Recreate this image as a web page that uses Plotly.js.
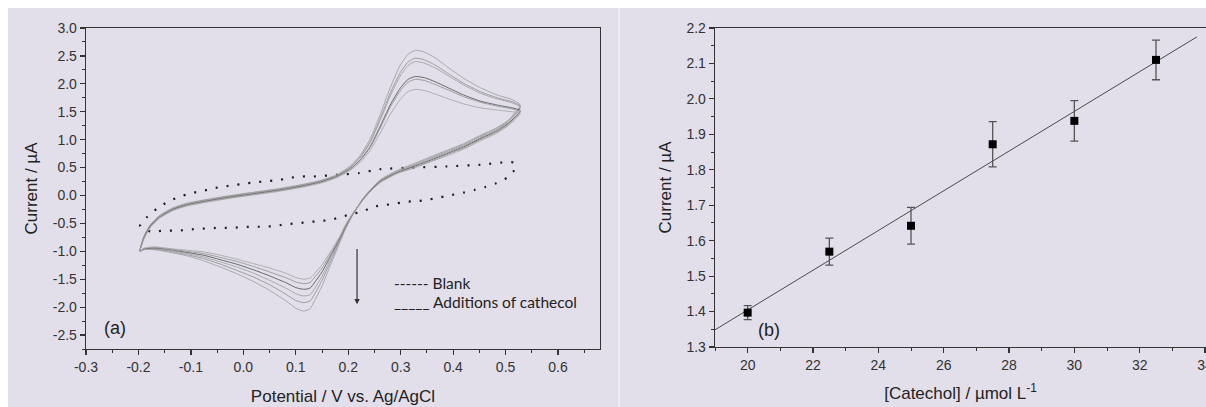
<!DOCTYPE html>
<html>
<head>
<meta charset="utf-8">
<script src="https://cdn.plot.ly/plotly-3.0.1.min.js"></script>
<style>html,body{margin:0;padding:0;background:#fff;overflow:hidden}#chart{width:1206px;height:407px}</style>
</head>
<body>
<div id="chart"></div>
<script>
// ---------- Panel (a): cyclic voltammograms ----------
// Forward (anodic) scan potentials, V vs Ag/AgCl
const fwdPotential = [-0.197,-0.19,-0.178,-0.16,-0.134,-0.108,-0.07,-0.025,0.02,0.065,0.108,0.147,0.178,0.204,0.223,0.242,0.261,0.28,0.299,0.314,0.328,0.345,0.365,0.388,0.42,0.452,0.484,0.512,0.528];
// Reverse (cathodic) scan potentials
const revPotential = [0.505,0.484,0.45,0.42,0.388,0.356,0.325,0.293,0.261,0.242,0.229,0.21,0.195,0.185,0.166,0.15,0.135,0.127,0.115,0.1,0.083,0.05,0.019,-0.013,-0.044,-0.076,-0.108,-0.14,-0.171,-0.19,-0.197];

// Currents (µA) for each catechol addition
const add1Fwd = [-1.0,-0.74,-0.53,-0.36,-0.22,-0.14,-0.07,0.0,0.06,0.12,0.19,0.27,0.37,0.53,0.72,1.02,1.45,1.93,2.33,2.53,2.60,2.57,2.47,2.31,2.10,1.93,1.80,1.72,1.62];
const add1Rev = [1.35,1.22,1.07,0.93,0.81,0.69,0.57,0.45,0.28,0.10,-0.04,-0.32,-0.60,-0.82,-1.25,-1.62,-1.90,-2.03,-2.07,-2.02,-1.90,-1.70,-1.54,-1.40,-1.28,-1.17,-1.08,-1.02,-0.97,-0.97,-1.0];
const add2Fwd = [-1.0,-0.75,-0.54,-0.37,-0.23,-0.15,-0.08,-0.01,0.05,0.11,0.18,0.26,0.36,0.51,0.69,0.97,1.38,1.83,2.20,2.39,2.46,2.43,2.34,2.20,2.01,1.86,1.75,1.68,1.60];
const add2Rev = [1.33,1.20,1.05,0.91,0.79,0.67,0.55,0.43,0.27,0.09,-0.05,-0.32,-0.58,-0.79,-1.19,-1.52,-1.78,-1.89,-1.92,-1.88,-1.78,-1.60,-1.46,-1.34,-1.23,-1.13,-1.06,-1.00,-0.96,-0.96,-1.0];
const add3Fwd = [-1.0,-0.76,-0.55,-0.38,-0.24,-0.16,-0.09,-0.02,0.04,0.10,0.17,0.25,0.35,0.50,0.68,0.95,1.35,1.78,2.14,2.33,2.40,2.37,2.29,2.16,1.98,1.83,1.73,1.66,1.58];
const add3Rev = [1.31,1.18,1.03,0.89,0.77,0.65,0.53,0.42,0.26,0.08,-0.06,-0.32,-0.57,-0.77,-1.14,-1.45,-1.68,-1.78,-1.80,-1.76,-1.67,-1.52,-1.39,-1.28,-1.19,-1.10,-1.04,-0.99,-0.95,-0.96,-1.0];
const add4Fwd = [-1.0,-0.77,-0.56,-0.39,-0.25,-0.17,-0.10,-0.03,0.03,0.09,0.16,0.24,0.34,0.48,0.64,0.88,1.24,1.62,1.92,2.08,2.13,2.11,2.04,1.94,1.80,1.69,1.62,1.57,1.52];
const add4Rev = [1.29,1.16,1.01,0.87,0.75,0.63,0.52,0.41,0.25,0.08,-0.06,-0.31,-0.55,-0.75,-1.09,-1.37,-1.57,-1.66,-1.68,-1.65,-1.57,-1.44,-1.33,-1.23,-1.15,-1.07,-1.02,-0.97,-0.94,-0.96,-1.0];
const add5Fwd = [-1.0,-0.78,-0.57,-0.40,-0.26,-0.18,-0.11,-0.04,0.02,0.08,0.15,0.23,0.33,0.47,0.63,0.86,1.21,1.58,1.87,2.03,2.08,2.06,1.99,1.90,1.77,1.67,1.60,1.55,1.50];
const add5Rev = [1.27,1.14,0.99,0.85,0.73,0.61,0.50,0.40,0.24,0.07,-0.07,-0.31,-0.54,-0.73,-1.05,-1.30,-1.48,-1.56,-1.58,-1.55,-1.48,-1.37,-1.27,-1.18,-1.11,-1.04,-1.00,-0.96,-0.93,-0.95,-1.0];
const add6Fwd = [-1.0,-0.79,-0.58,-0.41,-0.27,-0.19,-0.12,-0.05,0.01,0.07,0.14,0.22,0.32,0.45,0.60,0.81,1.12,1.45,1.72,1.86,1.90,1.88,1.82,1.74,1.64,1.57,1.53,1.50,1.47];
const add6Rev = [1.25,1.12,0.97,0.83,0.71,0.60,0.49,0.39,0.23,0.07,-0.07,-0.30,-0.52,-0.71,-1.01,-1.24,-1.41,-1.48,-1.50,-1.47,-1.40,-1.30,-1.22,-1.14,-1.07,-1.01,-0.98,-0.95,-0.92,-0.95,-1.0];

// Blank voltammogram (closed loop)
const blankPotential = [-0.197,-0.185,-0.163,-0.141,-0.121,-0.100,-0.078,-0.057,-0.036,-0.014,0.007,0.028,0.049,0.070,0.091,0.113,0.134,0.178,0.220,0.260,0.325,0.388,0.452,0.515,0.519,0.503,0.482,0.461,0.441,0.420,0.398,0.377,0.355,0.334,0.313,0.293,0.271,0.248,0.227,0.207,0.185,0.164,0.143,0.121,0.100,0.078,0.057,0.036,0.015,-0.006,-0.027,-0.048,-0.070,-0.090,-0.111,-0.133,-0.154,-0.175,-0.197];
const blankCurrent = [-0.55,-0.40,-0.22,-0.10,-0.02,0.04,0.08,0.13,0.16,0.19,0.22,0.24,0.26,0.28,0.32,0.34,0.34,0.37,0.40,0.47,0.50,0.52,0.55,0.59,0.49,0.32,0.22,0.15,0.10,0.05,0.01,-0.03,-0.07,-0.10,-0.11,-0.14,-0.17,-0.20,-0.29,-0.33,-0.39,-0.44,-0.46,-0.48,-0.50,-0.52,-0.55,-0.56,-0.56,-0.57,-0.58,-0.58,-0.59,-0.60,-0.62,-0.63,-0.63,-0.65,-0.55];

// ---------- Panel (b): calibration ----------
const catechol = [20, 22.5, 25, 27.5, 30, 32.5];          // µmol L-1
const peakCurrent = [1.397, 1.569, 1.642, 1.872, 1.938, 2.110]; // µA
const currentError = [0.020, 0.038, 0.052, 0.064, 0.057, 0.056];
const fitRange = [19, 33.75];

// Tick labels
const potentialTicks = [-0.3,-0.2,-0.1,0.0,0.1,0.2,0.3,0.4,0.5,0.6];
const currentTicksA = [-2.5,-2.0,-1.5,-1.0,-0.5,0.0,0.5,1.0,1.5,2.0,2.5,3.0];
const catecholTicks = [20,22,24,26,28,30,32,34];
const currentTicksB = [1.3,1.4,1.5,1.6,1.7,1.8,1.9,2.0,2.1,2.2];

// ---------- build ----------
const addFwd = [add1Fwd, add2Fwd, add3Fwd, add4Fwd, add5Fwd, add6Fwd];
const addRev = [add1Rev, add2Rev, add3Rev, add4Rev, add5Rev, add6Rev];
const addColors = ['#a2a2a2','#949494','#a2a2a2','#5a5a5a','#959595','#a8a8a8'];

const traces = [];
traces.push({
  x: blankPotential, y: blankCurrent, xaxis: 'x', yaxis: 'y', mode: 'lines',
  line: {color: '#1e1e1e', width: 2.2, dash: '2px,9px', shape: 'spline', smoothing: 0.6},
  hoverinfo: 'skip', showlegend: false
});
for (let i = 0; i < addFwd.length; i++) {
  traces.push({
    x: fwdPotential.concat(revPotential), y: addFwd[i].concat(addRev[i]),
    xaxis: 'x', yaxis: 'y', mode: 'lines',
    line: {color: addColors[i], width: 0.9, shape: 'spline', smoothing: 0.6},
    hoverinfo: 'skip', showlegend: false
  });
}

// linear regression fit
const n = catechol.length;
const mx = catechol.reduce((a, b) => a + b, 0) / n;
const my = peakCurrent.reduce((a, b) => a + b, 0) / n;
let sxy = 0, sxx = 0;
for (let i = 0; i < n; i++) { sxy += (catechol[i]-mx)*(peakCurrent[i]-my); sxx += (catechol[i]-mx)**2; }
const slope = sxy / sxx, intercept = my - slope * mx;
traces.push({
  x: fitRange, y: fitRange.map(v => intercept + slope * v), xaxis: 'x2', yaxis: 'y2',
  mode: 'lines', line: {color: '#4a4a4a', width: 1}, hoverinfo: 'skip', showlegend: false
});
traces.push({
  x: catechol, y: peakCurrent, xaxis: 'x2', yaxis: 'y2', mode: 'markers',
  marker: {symbol: 'square', size: 8, color: '#000'},
  error_y: {type: 'data', array: currentError, visible: true, color: '#555', thickness: 1.3, width: 4},
  showlegend: false
});

const W = 1206, H = 407;
const tickFont = {family: 'Liberation Sans, Arial, sans-serif', size: 14, color: '#333'};
const titleFont = {family: 'Liberation Sans, Arial, sans-serif', size: 17, color: '#222'};
const axisCommon = {
  showline: true, linecolor: '#333', linewidth: 1.3, ticks: 'outside', ticklen: 5,
  tickwidth: 1.2, tickcolor: '#333', showgrid: false, zeroline: false, tickfont: tickFont
};
const lav = '#e2dfea';
const fmt1 = v => v.toFixed(1);

const layout = {
  width: W, height: H, margin: {l: 0, r: 0, t: 0, b: 0},
  paper_bgcolor: '#ffffff', plot_bgcolor: 'rgba(0,0,0,0)', showlegend: false,
  xaxis: Object.assign({}, axisCommon, {
    domain: [86/W, 600/W], range: [-0.3, 0.68], anchor: 'y', mirror: true,
    tickvals: potentialTicks, ticktext: potentialTicks.map(fmt1),
    minor: {ticks: 'outside', ticklen: 3, dtick: 0.05, tick0: 0, tickcolor: '#333', tickwidth: 1},
    title: {text: 'Potential / V vs. Ag/AgCl', font: titleFont, standoff: 16}
  }),
  yaxis: Object.assign({}, axisCommon, {
    domain: [1 - 349/H, 1 - 28/H], range: [-2.75, 3.0], anchor: 'x', mirror: true,
    tickvals: currentTicksA, ticktext: currentTicksA.map(fmt1),
    minor: {ticks: 'outside', ticklen: 3, dtick: 0.25, tick0: 0, tickcolor: '#333', tickwidth: 1},
    title: {text: 'Current / µA', font: titleFont, standoff: 10}
  }),
  xaxis2: Object.assign({}, axisCommon, {
    domain: [715/W, 1], range: [19, 34.03], anchor: 'y2', mirror: true,
    tickvals: catecholTicks, ticklabeloverflow: 'allow',
    minor: {ticks: 'outside', ticklen: 3, dtick: 1, tick0: 0, tickcolor: '#333', tickwidth: 1},
    title: {text: '[Catechol] / µmol L<sup>-1</sup>', font: titleFont, standoff: 15}
  }),
  yaxis2: Object.assign({}, axisCommon, {
    domain: [1 - 347/H, 1 - 28/H], range: [1.3, 2.2], anchor: 'x2', mirror: false,
    tickvals: currentTicksB, ticktext: currentTicksB.map(fmt1),
    minor: {ticks: 'outside', ticklen: 3, dtick: 0.05, tick0: 0, tickcolor: '#333', tickwidth: 1},
    title: {text: 'Current / µA', font: titleFont, standoff: 10}
  }),
  shapes: [
    {type: 'rect', xref: 'paper', yref: 'paper', x0: 8/W, x1: 1, y0: 0, y1: 1 - 8/H,
     fillcolor: lav, line: {width: 0}, layer: 'below'},
    {type: 'line', xref: 'paper', yref: 'paper', x0: 619/W, x1: 619/W, y0: 0, y1: 1 - 8/H,
     line: {color: '#f0eef5', width: 2}, layer: 'below'}
  ],
  annotations: [
    {xref: 'x', yref: 'y', x: -0.245, y: -2.38, text: '(a)', showarrow: false,
     font: {family: 'Liberation Sans, Arial, sans-serif', size: 18, color: '#222'}},
    {xref: 'x2', yref: 'y2', x: 20.65, y: 1.348, text: '(b)', showarrow: false,
     font: {family: 'Liberation Sans, Arial, sans-serif', size: 18, color: '#222'}},
    {xref: 'x', yref: 'y', x: 0.2168, y: -1.95, ax: 0.2168, ay: -0.93, axref: 'x', ayref: 'y',
     text: '', showarrow: true, arrowhead: 2, arrowsize: 0.9, arrowwidth: 1.2, arrowcolor: '#333'},
    {xref: 'x', yref: 'y', x: 0.2835, y: -1.57, xanchor: 'left', text: '------ Blank', showarrow: false,
     font: {family: 'Lato, sans-serif', size: 15.5, color: '#222'}},
    {xref: 'x', yref: 'y', x: 0.2835, y: -1.91, xanchor: 'left', text: '_____ Additions of cathecol', showarrow: false,
     font: {family: 'Lato, sans-serif', size: 15.5, color: '#222'}}
  ]
};

Plotly.newPlot('chart', traces, layout, {displayModeBar: false, staticPlot: true});
</script>
</body>
</html>
